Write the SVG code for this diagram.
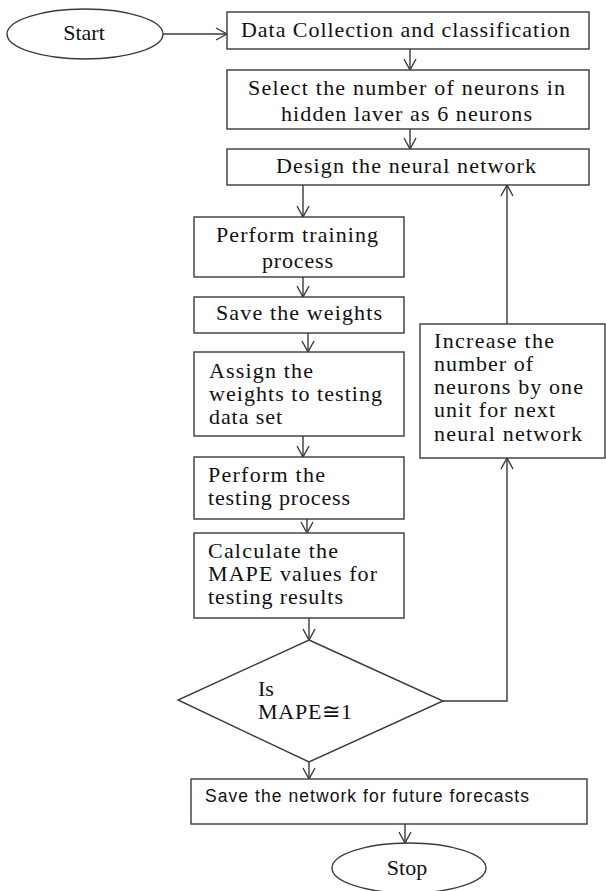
<svg xmlns="http://www.w3.org/2000/svg" width="606" height="891" viewBox="0 0 606 891">
<style>
.box{fill:#fff;stroke:#3a3a3a;stroke-width:1.4}
.ln{fill:none;stroke:#3a3a3a;stroke-width:1.4}
.t{font-family:"Liberation Serif","Times New Roman",serif;font-size:22px;fill:#111}
.s{font-family:"Liberation Sans",Arial,sans-serif;font-size:17.5px;fill:#111}
</style>
<defs>
<marker id="ah" markerUnits="userSpaceOnUse" markerWidth="14" markerHeight="14" viewBox="-12 -7 14 14" refX="0" refY="0" orient="auto">
<path d="M-11,-6 L0,0 L-11,6" fill="none" stroke="#3a3a3a" stroke-width="1.4"/>
</marker>
</defs>
<rect width="606" height="891" fill="#fff"/>
<g id="connectors">
<line class="ln" x1="163" y1="34" x2="227" y2="34" marker-end="url(#ah)"/>
<line class="ln" x1="410" y1="49" x2="410" y2="70" marker-end="url(#ah)"/>
<line class="ln" x1="410" y1="129" x2="410" y2="149" marker-end="url(#ah)"/>
<line class="ln" x1="303" y1="185" x2="303" y2="217" marker-end="url(#ah)"/>
<line class="ln" x1="303" y1="277" x2="303" y2="297" marker-end="url(#ah)"/>
<line class="ln" x1="308" y1="333" x2="308" y2="352" marker-end="url(#ah)"/>
<line class="ln" x1="303" y1="436" x2="303" y2="457" marker-end="url(#ah)"/>
<line class="ln" x1="307" y1="519" x2="307" y2="533" marker-end="url(#ah)"/>
<line class="ln" x1="309" y1="618" x2="309" y2="640" marker-end="url(#ah)"/>
<line class="ln" x1="309" y1="762" x2="309" y2="779" marker-end="url(#ah)"/>
<line class="ln" x1="405" y1="824" x2="405" y2="843" marker-end="url(#ah)"/>
<polyline class="ln" points="443,701 507,701 507,458" marker-end="url(#ah)"/>
<line class="ln" x1="507" y1="324" x2="507" y2="185" marker-end="url(#ah)"/>
</g>
<g id="start">
<ellipse class="box" cx="85" cy="34" rx="78" ry="25"/>
<text class="t" x="84" y="40" text-anchor="middle">Start</text>
</g>
<g id="collect">
<rect class="box" x="227" y="12" width="362" height="37"/>
<text class="t" x="241" y="37" textLength="329" lengthAdjust="spacing">Data Collection and classification</text>
</g>
<g id="select">
<rect class="box" x="227" y="70" width="362" height="59"/>
<text class="t" x="248" y="95" textLength="317" lengthAdjust="spacing">Select the number of neurons in</text>
<text class="t" x="281" y="121" textLength="251" lengthAdjust="spacing">hidden laver as 6 neurons</text>
</g>
<g id="design">
<rect class="box" x="227" y="149" width="362" height="36"/>
<text class="t" x="276" y="173" textLength="260" lengthAdjust="spacing">Design the neural network</text>
</g>
<g id="train">
<rect class="box" x="194" y="217" width="210" height="60"/>
<text class="t" x="216" y="242" textLength="162" lengthAdjust="spacing">Perform training</text>
<text class="t" x="262" y="268" textLength="71" lengthAdjust="spacing">process</text>
</g>
<g id="save-weights">
<rect class="box" x="194" y="297" width="210" height="36"/>
<text class="t" x="216" y="320" textLength="166" lengthAdjust="spacing">Save the weights</text>
</g>
<g id="assign">
<rect class="box" x="194" y="352" width="210" height="84"/>
<text class="t" x="209" y="378" textLength="104" lengthAdjust="spacing">Assign the</text>
<text class="t" x="209" y="401" textLength="173" lengthAdjust="spacing">weights to testing</text>
<text class="t" x="209" y="424" textLength="73" lengthAdjust="spacing">data set</text>
</g>
<g id="test">
<rect class="box" x="194" y="457" width="210" height="62"/>
<text class="t" x="208" y="482" textLength="117" lengthAdjust="spacing">Perform the</text>
<text class="t" x="208" y="505" textLength="142" lengthAdjust="spacing">testing process</text>
</g>
<g id="mape">
<rect class="box" x="194" y="533" width="210" height="85"/>
<text class="t" x="208" y="558" textLength="130" lengthAdjust="spacing">Calculate the</text>
<text class="t" x="208" y="581" textLength="169" lengthAdjust="spacing">MAPE values for</text>
<text class="t" x="208" y="604" textLength="135" lengthAdjust="spacing">testing results</text>
</g>
<g id="decision">
<polygon class="box" points="309,640 443,701 309,762 178,700"/>
<text class="t" x="258" y="696">Is</text>
<text class="t" x="258" y="719" textLength="94" lengthAdjust="spacing">MAPE≅1</text>
</g>
<g id="increase">
<rect class="box" x="420" y="324" width="185" height="134"/>
<text class="t" x="434" y="348" textLength="120" lengthAdjust="spacing">Increase the</text>
<text class="t" x="434" y="371" textLength="99" lengthAdjust="spacing">number of</text>
<text class="t" x="434" y="394" textLength="149" lengthAdjust="spacing">neurons by one</text>
<text class="t" x="434" y="417" textLength="121" lengthAdjust="spacing">unit for next</text>
<text class="t" x="434" y="441" textLength="148" lengthAdjust="spacing">neural network</text>
</g>
<g id="save-network">
<rect class="box" x="191" y="779" width="396" height="45"/>
<text class="s" x="205" y="802" textLength="324" lengthAdjust="spacing">Save the network for future forecasts</text>
</g>
<g id="stop">
<ellipse class="box" cx="409" cy="868" rx="77" ry="25"/>
<text class="t" x="407" y="875" text-anchor="middle">Stop</text>
</g>
</svg>
